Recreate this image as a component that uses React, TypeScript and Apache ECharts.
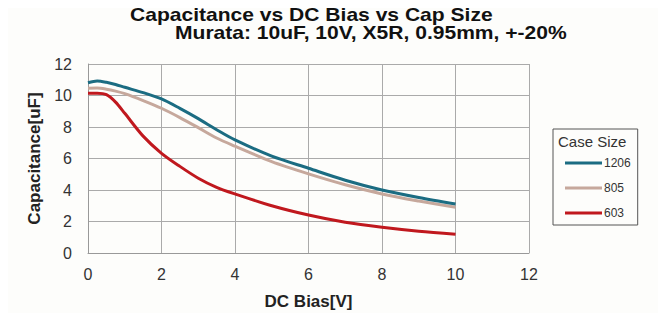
import React, { useEffect, useRef } from "react";
import * as echarts from "echarts";

const bias = [0, 0.25, 0.5, 0.75, 1, 1.5, 2, 2.5, 3, 3.5, 4, 5, 6, 7, 8, 9, 10];
const cap1206 = [10.81, 10.92, 10.84, 10.7, 10.52, 10.18, 9.78, 9.18, 8.53, 7.83, 7.18, 6.15, 5.38, 4.62, 4.0, 3.52, 3.11];
const cap805 = [10.46, 10.47, 10.4, 10.28, 10.12, 9.68, 9.19, 8.6, 7.96, 7.3, 6.78, 5.8, 5.02, 4.33, 3.75, 3.3, 2.9];
const cap603 = [10.14, 10.14, 10.05, 9.58, 8.87, 7.42, 6.33, 5.5, 4.75, 4.17, 3.75, 3.0, 2.41, 1.95, 1.63, 1.38, 1.19];
const seriesNames = ["1206", "805", "603"];
const seriesColors = ["#1b6c82", "#c6a89c", "#c0181e"];

const titleText = "Capacitance vs DC Bias vs Cap Size";
const subtitleText = "Murata: 10uF, 10V, X5R, 0.95mm, +-20%";
const legendTitle = "Case Size";

const FONT = "'Liberation Sans', Arial, sans-serif";

export default function App() {
  const ref = useRef<HTMLDivElement>(null);
  useEffect(() => {
    if (!ref.current) return;
    const chart = echarts.init(ref.current, null, { renderer: "svg" });
    const allData = [cap1206, cap805, cap603];
    chart.setOption({
      animation: false,
      backgroundColor: "#fdfdfb",
      textStyle: { fontFamily: FONT },
      graphic: [
        {
          type: "text",
          x: 130,
          y: 6,
          scaleX: 1.17,
          style: { text: titleText, font: `bold 18px ${FONT}`, fill: "#111", verticalAlign: "top" },
        },
        {
          type: "text",
          x: 175,
          y: 24,
          scaleX: 1.17,
          style: { text: subtitleText, font: `bold 18px ${FONT}`, fill: "#111", verticalAlign: "top" },
        },
        {
          type: "text",
          x: 558,
          y: 134,
          style: { text: legendTitle, font: `15px ${FONT}`, fill: "#333", verticalAlign: "top" },
          z: 100,
        },
      ],
      legend: {
        orient: "vertical",
        left: 553,
        top: 129,
        padding: [28, 7, 6, 12],
        itemWidth: 37,
        itemHeight: 3,
        itemGap: 13,
        icon: "rect",
        borderColor: "#555",
        borderWidth: 1,
        backgroundColor: "#fdfdfb",
        textStyle: { fontSize: 12, color: "#333", padding: [0, 0, 0, -3] },
        data: seriesNames,
      },
      grid: { left: 88, right: 137, top: 64, bottom: 68 },
      xAxis: {
        type: "value",
        min: 0,
        max: 12,
        interval: 2,
        name: "DC Bias[V]",
        nameLocation: "middle",
        nameGap: 40,
        nameTextStyle: { fontWeight: "bold", fontSize: 17, color: "#222" },
        axisLine: { show: true, lineStyle: { color: "#999" } },
        axisTick: { show: false },
        axisLabel: { fontSize: 16, color: "#333", margin: 13 },
        splitLine: { show: true, lineStyle: { color: "#aaa" } },
      },
      yAxis: {
        type: "value",
        min: 0,
        max: 12,
        interval: 2,
        name: "Capacitance[uF]",
        nameLocation: "middle",
        nameGap: 39,
        nameTextStyle: { fontWeight: "bold", fontSize: 17, color: "#222" },
        axisLine: { show: true, lineStyle: { color: "#999" } },
        axisTick: { show: false },
        axisLabel: { fontSize: 16, color: "#333", margin: 16 },
        splitLine: { show: true, lineStyle: { color: "#aaa" } },
      },
      series: seriesNames.map((name, i) => ({
        name,
        type: "line",
        smooth: 0.3,
        showSymbol: false,
        symbol: "none",
        color: seriesColors[i],
        lineStyle: { width: 3, color: seriesColors[i] },
        data: bias.map((b, j) => [b, allData[i][j]]),
        z: 5 - i,
      })),
    });
    return () => chart.dispose();
  }, []);
  return <div ref={ref} style={{ width: 666, height: 321, margin: -8 }} />;
}
